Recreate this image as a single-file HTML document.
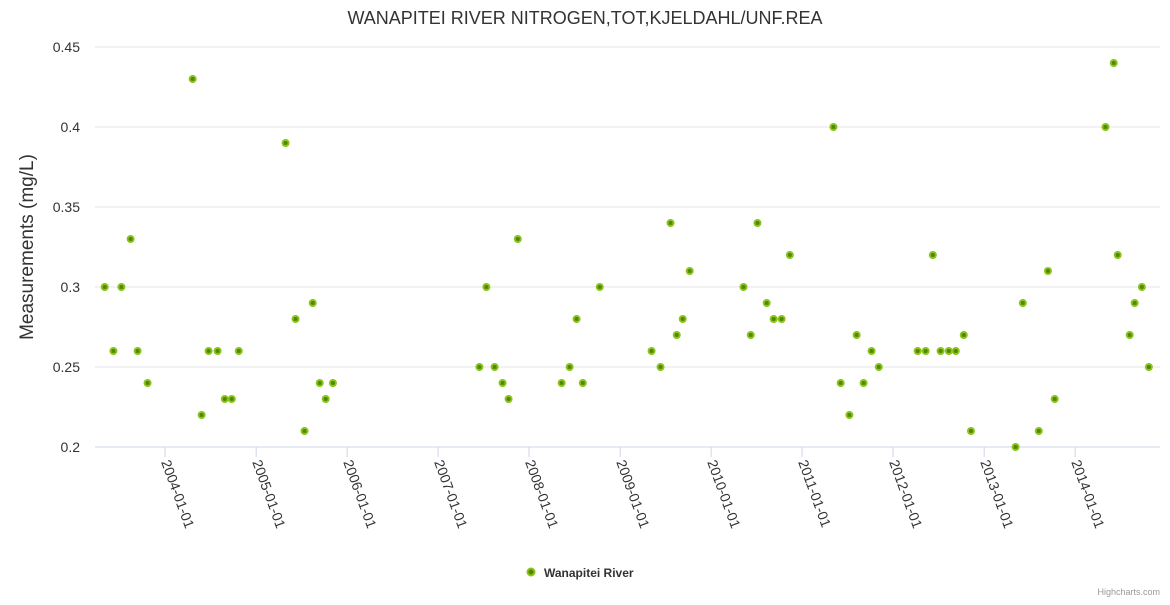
<!DOCTYPE html>
<html><head><meta charset="utf-8"><style>
body{margin:0;background:#fff;}
svg{font-family:"Liberation Sans",sans-serif;}
</style></head><body>
<svg id="chart" width="1170" height="600">
<text x="585" y="24" text-anchor="middle" font-size="18" fill="#333">WANAPITEI RIVER NITROGEN,TOT,KJELDAHL/UNF.REA</text>
<text transform="translate(33,247) rotate(-90)" text-anchor="middle" font-size="19" fill="#333">Measurements (mg/L)</text>
<g id="grid"></g><g id="xaxis"></g><g id="pts"></g>
<g>
<circle cx="531" cy="572" r="3.5" fill="#4a8a00" stroke="#8cc21a" stroke-width="2"/>
<text x="544" y="577" font-size="12" font-weight="bold" fill="#333">Wanapitei River</text>
</g>
<text x="1160" y="595" text-anchor="end" font-size="9" fill="#999">Highcharts.com</text>
</svg>
<script>
const dates=["2003-05-04","2003-06-08","2003-07-10","2003-08-16","2003-09-13","2003-10-23","2004-04-21","2004-05-27","2004-06-24","2004-07-30","2004-08-28","2004-09-25","2004-10-23","2005-04-29","2005-06-08","2005-07-14","2005-08-16","2005-09-13","2005-10-07","2005-11-05","2007-06-16","2007-07-14","2007-08-16","2007-09-17","2007-10-11","2007-11-17","2008-05-11","2008-06-12","2008-07-10","2008-08-04","2008-10-11","2009-05-07","2009-06-12","2009-07-22","2009-08-16","2009-09-09","2009-10-07","2010-05-11","2010-06-09","2010-07-06","2010-08-12","2010-09-09","2010-10-11","2010-11-13","2011-05-07","2011-06-05","2011-07-10","2011-08-08","2011-09-05","2011-10-07","2011-11-05","2012-04-09","2012-05-11","2012-06-09","2012-07-10","2012-08-12","2012-09-09","2012-10-11","2012-11-09","2013-05-07","2013-06-05","2013-08-08","2013-09-14","2013-10-11","2014-05-03","2014-06-05","2014-06-21","2014-08-08","2014-08-28","2014-09-26","2014-10-24"];
const values=[0.30,0.26,0.30,0.33,0.26,0.24,0.43,0.22,0.26,0.26,0.23,0.23,0.26,0.39,0.28,0.21,0.29,0.24,0.23,0.24,0.25,0.30,0.25,0.24,0.23,0.33,0.24,0.25,0.28,0.24,0.30,0.26,0.25,0.34,0.27,0.28,0.31,0.30,0.27,0.34,0.29,0.28,0.28,0.32,0.40,0.24,0.22,0.27,0.24,0.26,0.25,0.26,0.26,0.32,0.26,0.26,0.26,0.27,0.21,0.20,0.29,0.21,0.31,0.23,0.40,0.44,0.32,0.27,0.29,0.30,0.25];
const yTicks=[0.2,0.25,0.3,0.35,0.4,0.45];
const xTicks=["2004-01-01","2005-01-01","2006-01-01","2007-01-01","2008-01-01","2009-01-01","2010-01-01","2011-01-01","2012-01-01","2013-01-01","2014-01-01"];
const NS="http://www.w3.org/2000/svg";
const L=95,R=1160,T=47,B=447;
const t0=Date.parse("2004-01-01"),pxPerMs=91/(365.25*864e5);
const xs=d=>165+(Date.parse(d)-t0)*pxPerMs;
const ys=v=>B-(v-0.2)/0.25*(B-T);
function mk(tag,attrs,parent){const e=document.createElementNS(NS,tag);for(const k in attrs)e.setAttribute(k,attrs[k]);parent.appendChild(e);return e;}
const g=document.getElementById('grid'),xa=document.getElementById('xaxis'),pg=document.getElementById('pts');
yTicks.forEach(v=>{
 const y=ys(v);
 const ln=mk('line',{x1:L,x2:R,y1:y,y2:y,stroke:v===0.2?'#ccd6eb':'#e6e6e6'},g);
 
 
 const t=mk('text',{x:80,y:y+5,'text-anchor':'end','font-size':14,fill:'#333'},g);
 t.textContent=String(v);
 
 
});
xTicks.forEach(d=>{
 const x=xs(d);
 const tk=mk('line',{x1:x,x2:x,y1:B,y2:B+10,stroke:'#ccd6eb'},xa);
 
 
 const t=mk('text',{transform:`translate(${x-4},${B+15}) rotate(70)`,'font-size':14,fill:'#333'},xa);
 t.textContent=d;
 
 
});
dates.forEach((d,i)=>{
 const c=mk('circle',{cx:xs(d),cy:ys(values[i]),r:3,fill:'#4a8a00',stroke:'#8cc21a','stroke-width':2},pg);
 
 
});
</script>
</body></html>
